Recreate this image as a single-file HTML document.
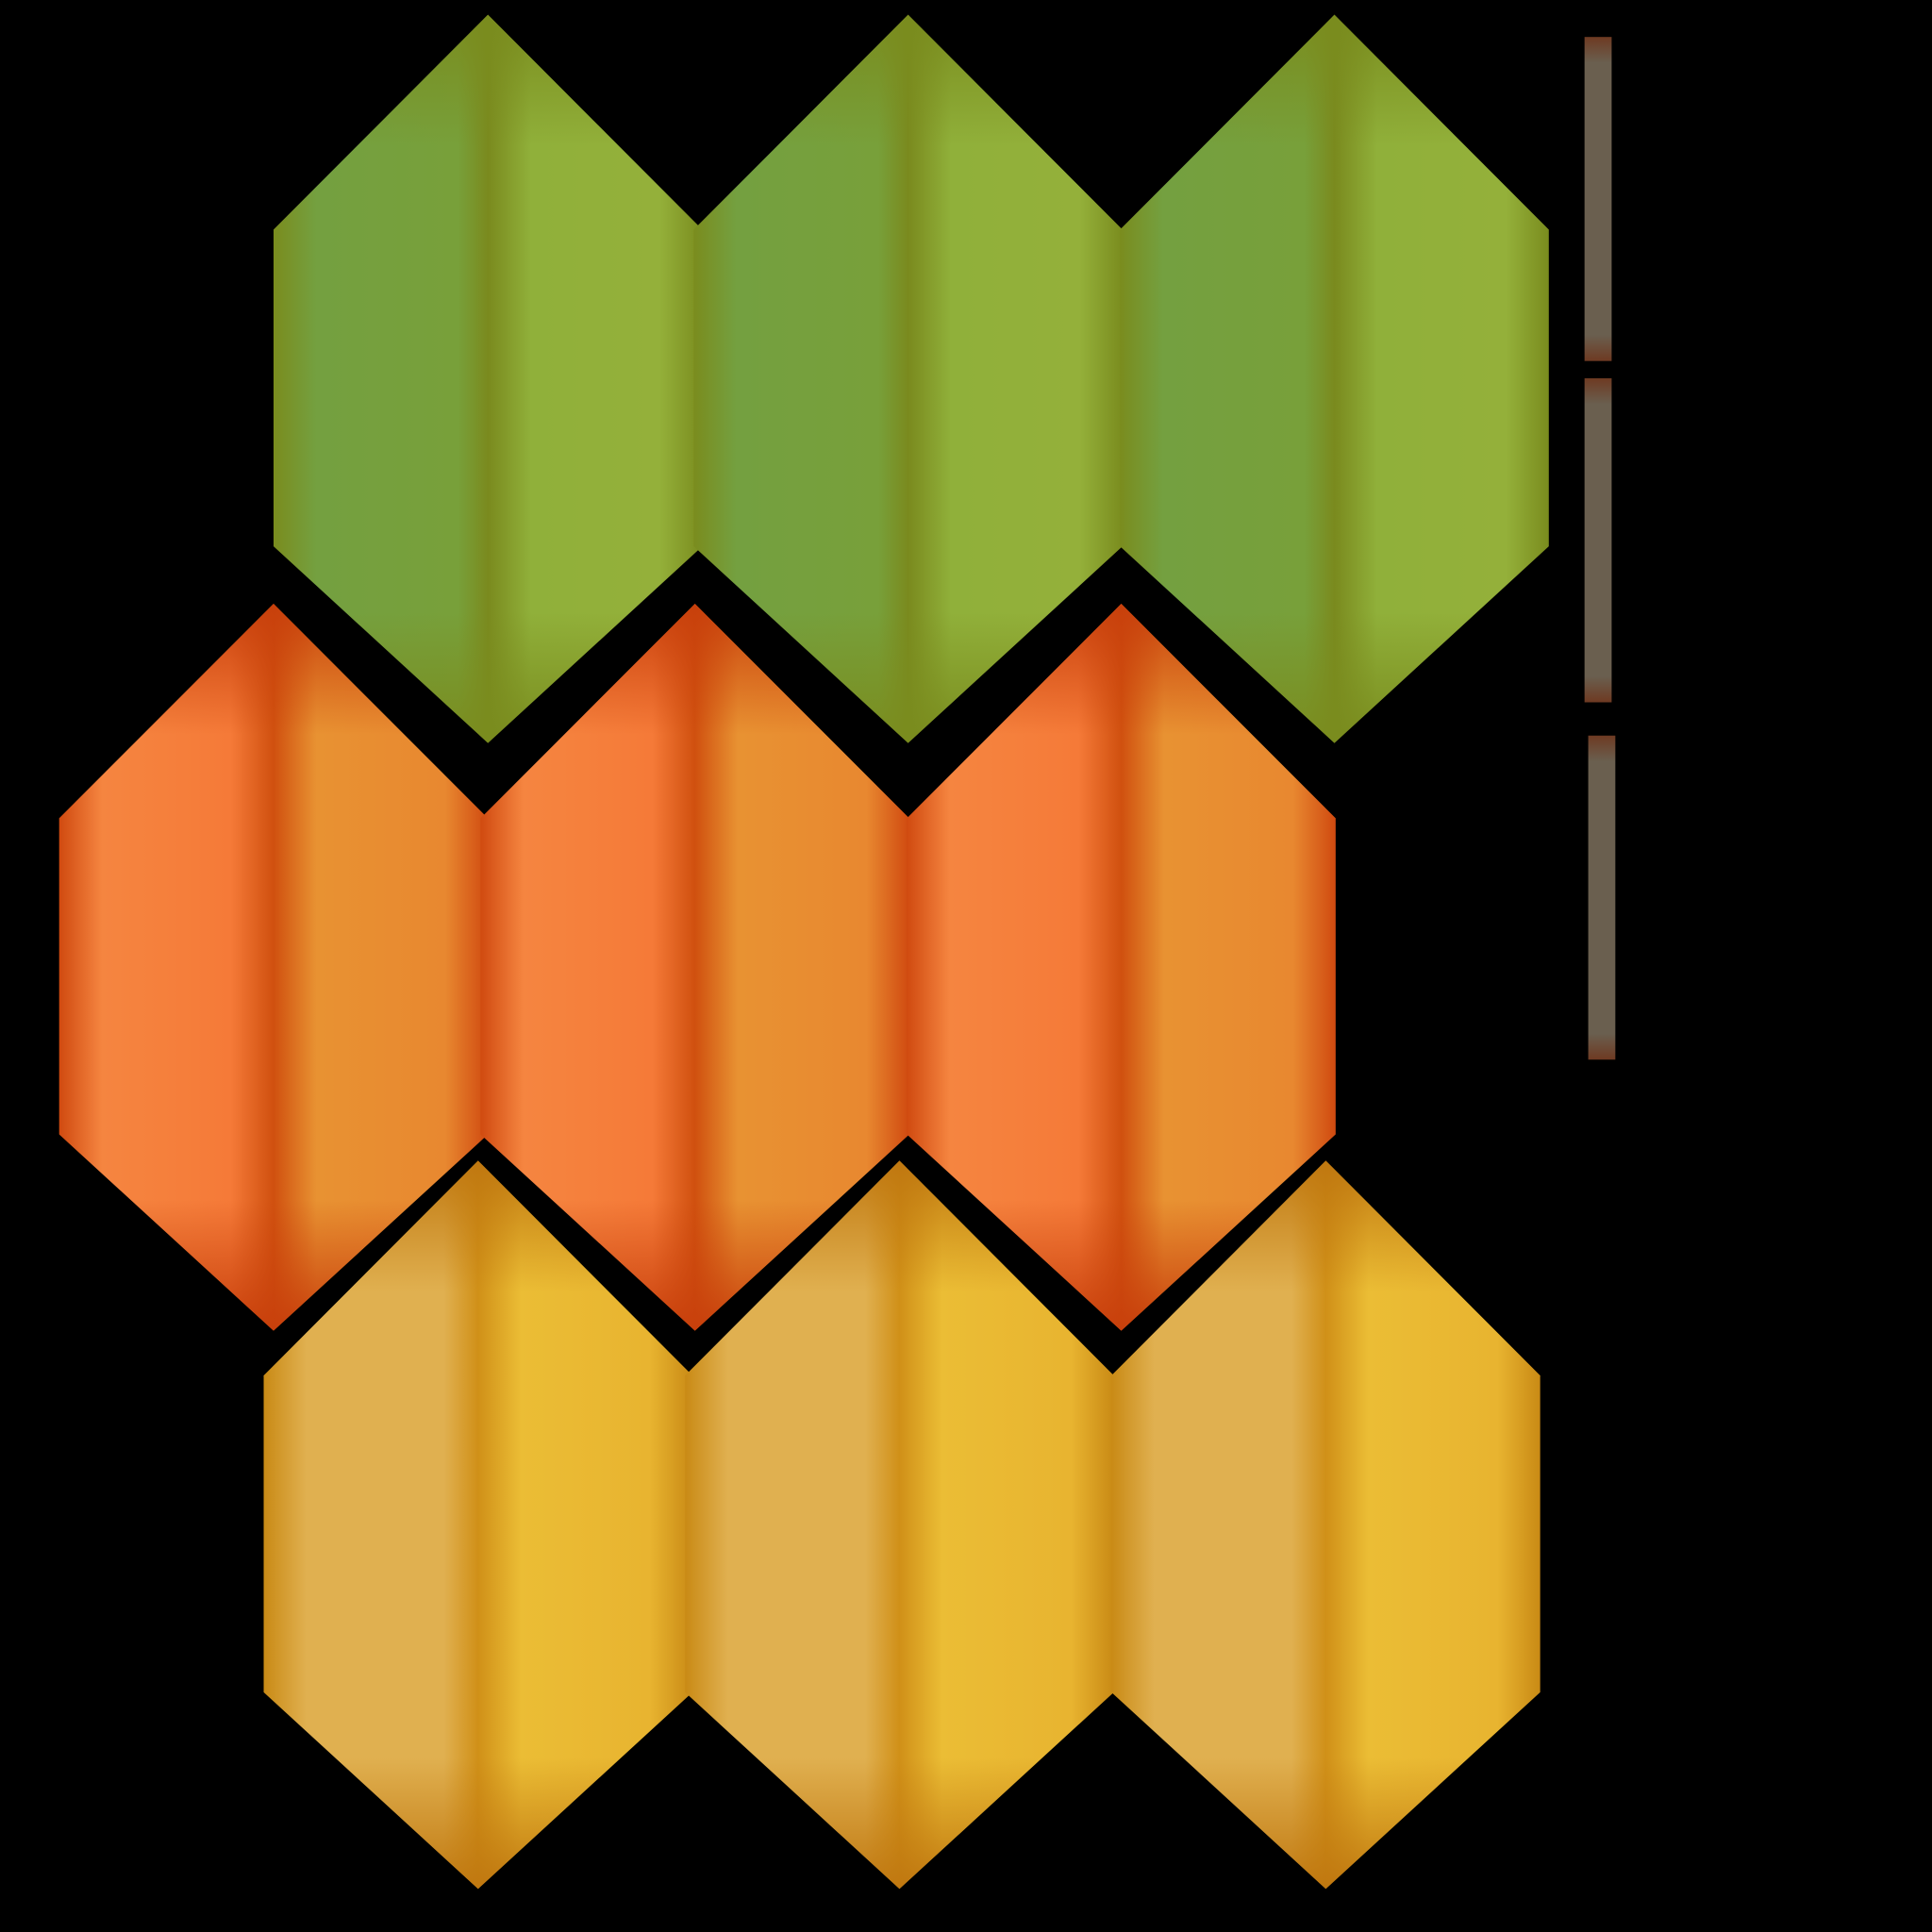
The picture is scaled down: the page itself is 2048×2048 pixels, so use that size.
<!DOCTYPE html>
<html><head><meta charset="utf-8">
<style>
html,body{margin:0;padding:0;background:#000;width:2048px;height:2048px;overflow:hidden}
svg{display:block}
</style></head>
<body>
<svg id="chart" width="2048" height="2048" viewBox="0 0 1568 1568" xmlns="http://www.w3.org/2000/svg">
<defs>
  <linearGradient id="g-green" x1="0" x2="1" y1="0" y2="0">
    <stop offset="0" stop-color="#7a8c1e"/><stop offset="0.1" stop-color="#74a040"/>
    <stop offset="0.43" stop-color="#78a03a"/><stop offset="0.5" stop-color="#7a8a1e"/>
    <stop offset="0.6" stop-color="#90b03a"/><stop offset="0.9" stop-color="#94b03a"/>
    <stop offset="1" stop-color="#7a8c1e"/>
  </linearGradient>
  <linearGradient id="g-orange" x1="0" x2="1" y1="0" y2="0">
    <stop offset="0" stop-color="#d04a10"/><stop offset="0.1" stop-color="#f58540"/>
    <stop offset="0.4" stop-color="#f57a38"/><stop offset="0.5" stop-color="#d0500f"/>
    <stop offset="0.6" stop-color="#e89232"/><stop offset="0.9" stop-color="#e88830"/>
    <stop offset="1" stop-color="#d04a10"/>
  </linearGradient>
  <linearGradient id="g-yellow" x1="0" x2="1" y1="0" y2="0">
    <stop offset="0" stop-color="#c98a15"/><stop offset="0.1" stop-color="#e0b050"/>
    <stop offset="0.42" stop-color="#e0b050"/><stop offset="0.5" stop-color="#d09018"/>
    <stop offset="0.6" stop-color="#ebbd35"/><stop offset="0.9" stop-color="#e8b430"/>
    <stop offset="1" stop-color="#c98a15"/>
  </linearGradient>
  <linearGradient id="v-green" x1="0" x2="0" y1="0" y2="1">
    <stop offset="0" stop-color="#7a8c1e" stop-opacity="1"/><stop offset="0.18" stop-color="#7a8c1e" stop-opacity="0"/>
    <stop offset="0.82" stop-color="#7a8c1e" stop-opacity="0"/><stop offset="1" stop-color="#7a8c1e" stop-opacity="1"/>
  </linearGradient>
  <linearGradient id="v-orange" x1="0" x2="0" y1="0" y2="1">
    <stop offset="0" stop-color="#c8400c" stop-opacity="1"/><stop offset="0.18" stop-color="#c8400c" stop-opacity="0"/>
    <stop offset="0.82" stop-color="#c8400c" stop-opacity="0"/><stop offset="1" stop-color="#c8400c" stop-opacity="1"/>
  </linearGradient>
  <linearGradient id="v-yellow" x1="0" x2="0" y1="0" y2="1">
    <stop offset="0" stop-color="#c07810" stop-opacity="1"/><stop offset="0.18" stop-color="#c07810" stop-opacity="0"/>
    <stop offset="0.82" stop-color="#c07810" stop-opacity="0"/><stop offset="1" stop-color="#c07810" stop-opacity="1"/>
  </linearGradient>
  <linearGradient id="g-bar" x1="0" x2="0" y1="0" y2="1">
    <stop offset="0" stop-color="#6e3a22"/><stop offset="0.08" stop-color="#6a5f4f"/>
    <stop offset="0.92" stop-color="#6a5f4f"/><stop offset="1" stop-color="#6e3a22"/>
  </linearGradient>
</defs>
</svg>
<script>
const rowNames = ['green', 'orange', 'yellow'];
const rowCentersX = [[396, 737, 1083], [222, 564, 910], [388, 730, 1076]];
const rowTops = [12, 490, 942];
const rowBottoms = [603, 1080, 1533];
const barX = [1286, 1286, 1289];
const barTop = [30, 307, 597];
const barBottom = [293, 570, 860];

const NS = 'http://www.w3.org/2000/svg';
const svg = document.getElementById('chart');
const HW = 174;
rowNames.forEach((name, r) => {
  const top = rowTops[r], bot = rowBottoms[r];
  const s1 = top + (bot - top) * 0.295, s2 = top + (bot - top) * 0.73;
  rowCentersX[r].forEach((cx, i) => {
    const pts = `${cx},${top} ${cx+HW},${s1} ${cx+HW},${s2} ${cx},${bot} ${cx-HW},${s2} ${cx-HW},${s1}`;
    const g = document.createElementNS(NS, 'g');
    
    
    const p = document.createElementNS(NS, 'polygon');
    p.setAttribute('points', pts);
    p.setAttribute('fill', 'url(#g-' + name + ')');
    g.appendChild(p);
    const o = document.createElementNS(NS, 'polygon');
    o.setAttribute('points', pts);
    o.setAttribute('fill', 'url(#v-' + name + ')');
    g.appendChild(o);
    svg.appendChild(g);
  });
});
barX.forEach((x, i) => {
  const b = document.createElementNS(NS, 'rect');
  
  
  b.setAttribute('x', x);
  b.setAttribute('y', barTop[i]);
  b.setAttribute('width', 22);
  b.setAttribute('height', barBottom[i] - barTop[i]);
  b.setAttribute('fill', 'url(#g-bar)');
  svg.appendChild(b);
});
</script>
</body></html>
